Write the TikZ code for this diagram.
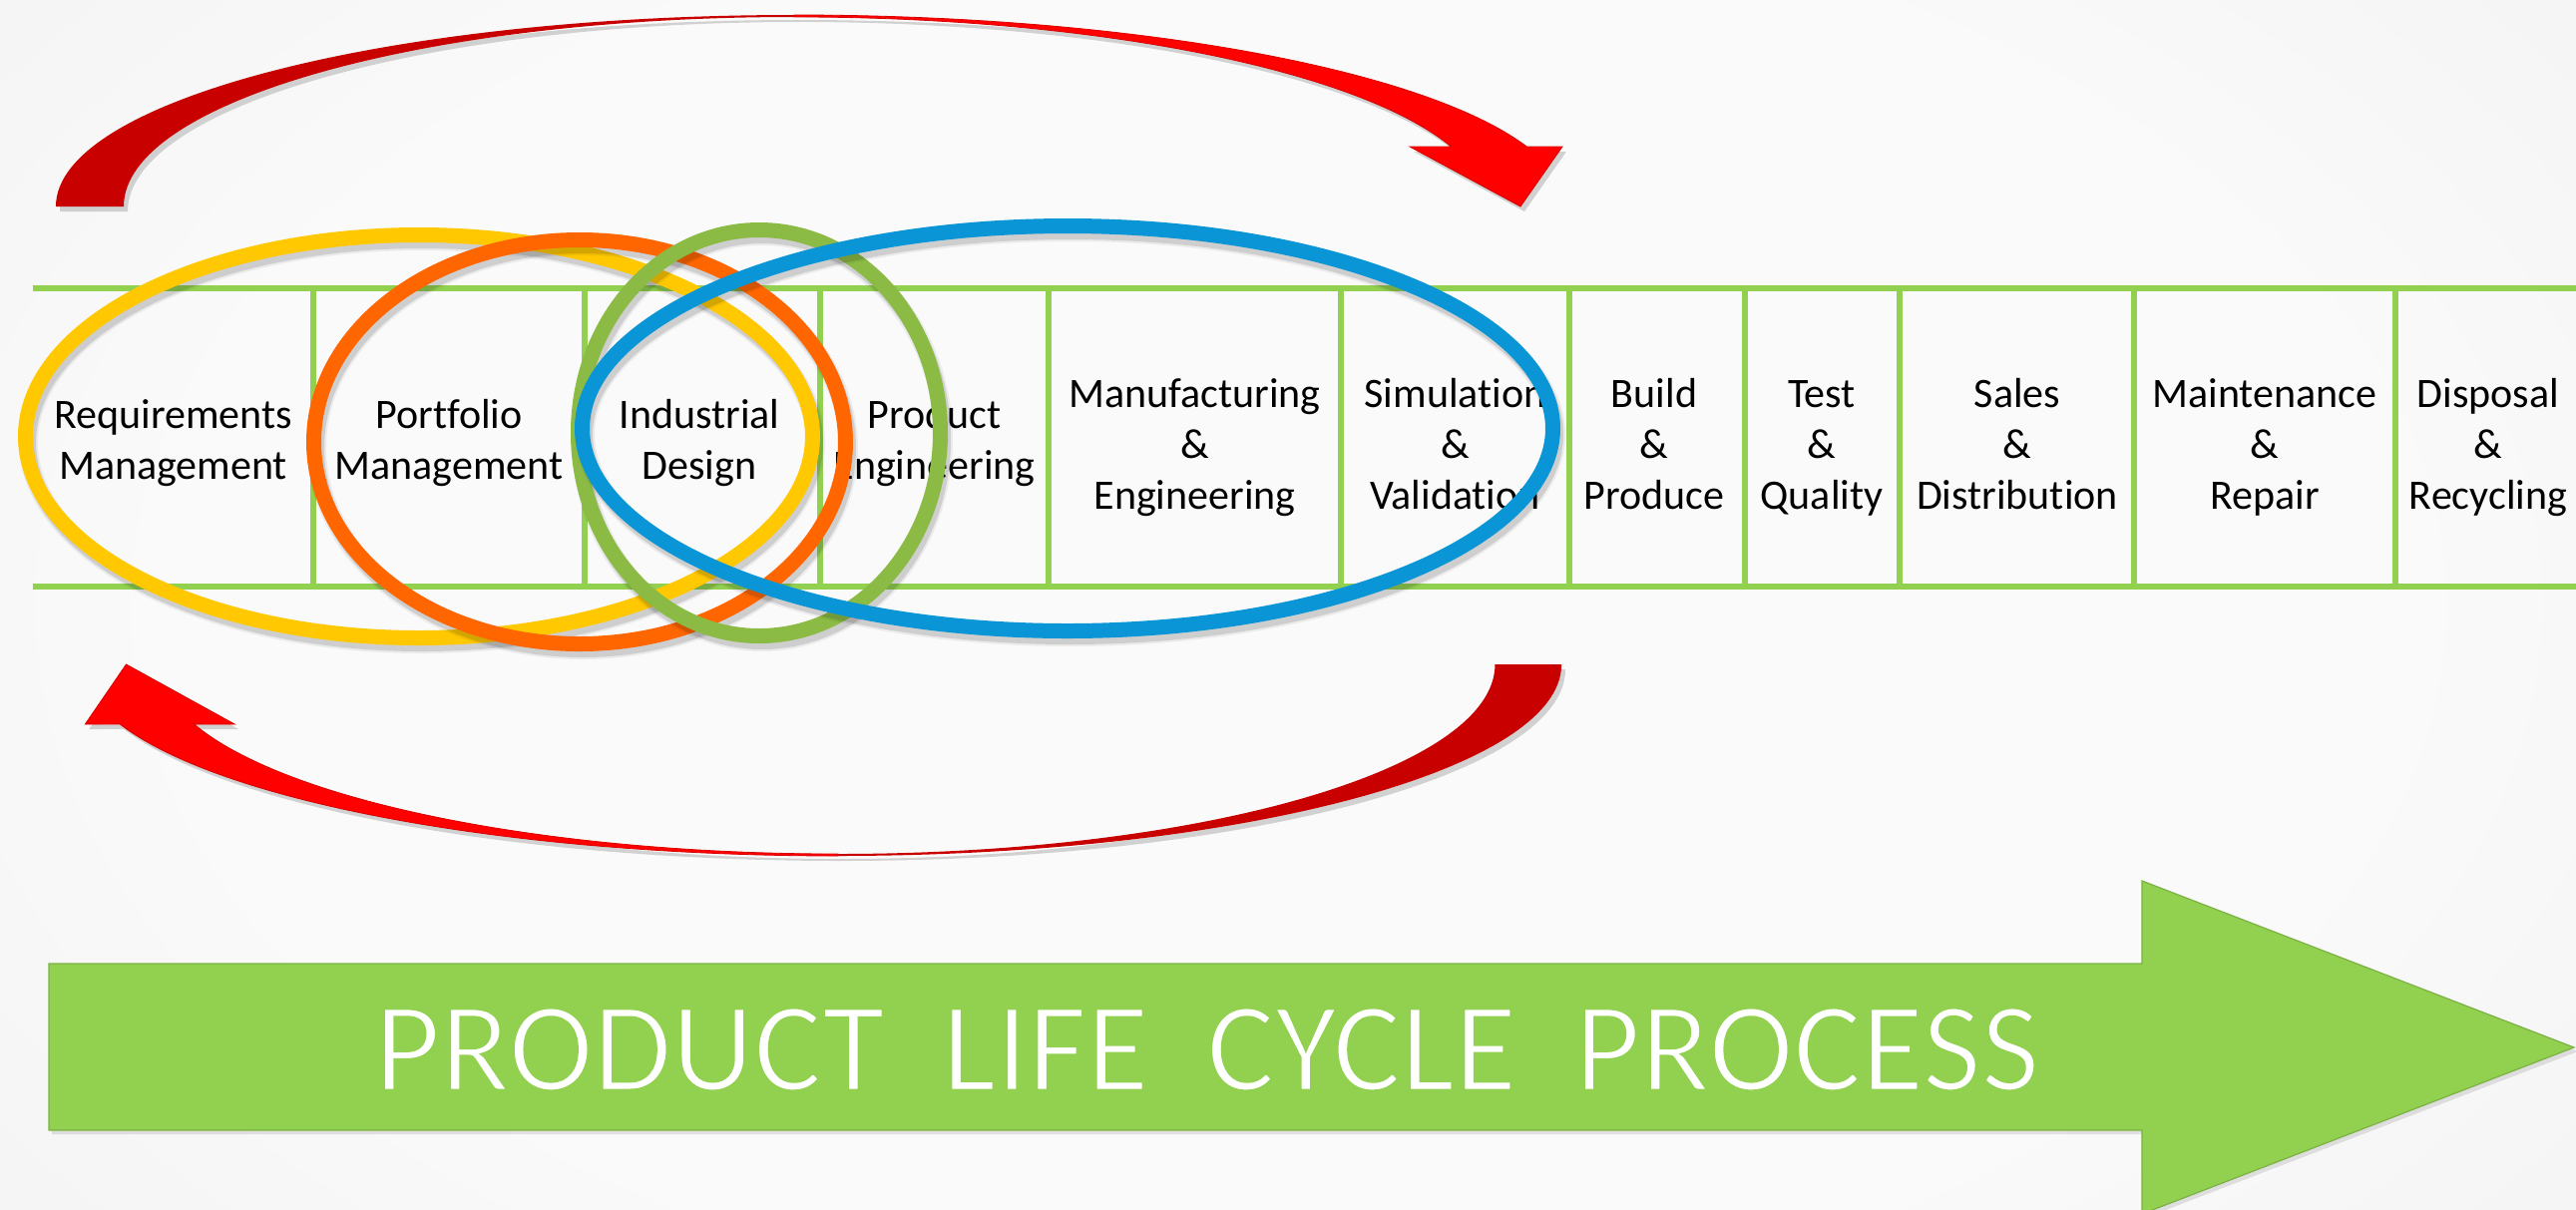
\documentclass[tikz,border=0pt]{standalone}
\usepackage{fontspec}
\setmainfont{Carlito}[Ligatures=NoCommon]
\usetikzlibrary{calc}
\definecolor{ringY}{HTML}{FFC800}
\definecolor{ringO}{HTML}{FF6600}
\definecolor{ringG}{HTML}{8BBB44}
\definecolor{ringB}{HTML}{0A96D6}
\definecolor{plcgreen}{HTML}{92D050}
\definecolor{redbright}{HTML}{FF0000}
\definecolor{reddark}{HTML}{C80000}
\definecolor{bgin}{HTML}{FAFAFA}
\definecolor{bgout}{HTML}{DADADA}
\pgfdeclareradialshading{plcbg}{\pgfpoint{0bp}{0bp}}{color(0bp)=(bgin); color(20bp)=(bgin); color(75bp)=(bgout)}

% thin (light-weight) rendering of white text on the green arrow
\newcommand\plclight[1]{\special{pdf:literal direct 2 Tr 1.5 w 0.573 0.816 0.314 RG}#1\special{pdf:literal direct 0 Tr}}

% red curved arrow, drawn in local px coordinates (y downwards)
\newcommand\plcarrowdark[1]{\path[#1] (56,207) arc[start angle=180,end angle=270,x radius=740,y radius=192] -- (796,17) arc[start angle=270,end angle=180,x radius=672,y radius=190] -- cycle;}
\newcommand\plcarrowbright[1]{\path[#1] (796,15) arc[start angle=270,end angle=341.8,x radius=773,y radius=192] -- (1566,147) -- (1524,207) -- (1413,147) -- (1454.5,147) arc[start angle=341.6,end angle=270,x radius=694,y radius=190] -- cycle;}
\newcommand\plcredarrow[2]{%
  \begin{scope}[shift={(#1,#2)}]
    \plcarrowdark{fill=black,opacity=0.16}
    \plcarrowbright{fill=black,opacity=0.16}
  \end{scope}
  \plcarrowdark{fill=reddark}
  \plcarrowbright{fill=redbright,draw=red!85!black,line width=0.4pt}}
% coloured ring with a soft shadow: colour, cx, cy, rx, ry
\newcommand\plcring[5]{%
  \draw[line width=9.5pt,black,opacity=0.06] (#2+3,#3+6) ellipse[x radius=#4,y radius=#5];
  \draw[line width=7.5pt,black,opacity=0.12] (#2+3,#3+6) ellipse[x radius=#4,y radius=#5];
  \draw[line width=7.5pt,#1] (#2,#3) ellipse[x radius=#4,y radius=#5];}

\begin{document}
\begin{tikzpicture}[x=0.5pt,y=-0.5pt,
  tableline/.style={draw=plcgreen,line width=2.8pt},
  sepline/.style={draw=plcgreen,line width=2.6pt},
  plccell/.style={anchor=north,align=center,inner sep=0pt,text=black,
    font=\fontsize{21pt}{25.5pt}\selectfont},
  plcbig/.style={anchor=base,inner sep=0pt,text=white,
    font=\fontsize{64pt}{76pt}\selectfont},
  bigarrow/.style={fill=plcgreen,draw=plcgreen!85!black,line width=0.6pt}]
\useasboundingbox (0,0) rectangle (2582,1212);
% background
\begin{scope}
  \clip (0,0) rectangle (2582,1212);
  \shade[shading=plcbg] (-100,-250) rectangle (2682,1462);
\end{scope}
% table
\draw[tableline] (33,289) -- (2582,289);
\draw[tableline] (33,588) -- (2582,588);
\foreach \x in {314,586,822,1051,1344,1573,1749,1904,2139,2401}
  \draw[sepline] (\x,291) -- (\x,586);
% cell texts
\node[plccell] (req)   at (173.5,393.3) {\strut Requirements\\\strut Management};
\node[plccell] (port)  at (450,393.3)   {\strut Portfolio\\\strut Management};
\node[plccell] (ind)   at (701,393.3)   {\strut Industrial\\\strut Design};
\node[plccell] (prod)  at (936.5,393.3) {\strut Product\\\strut Engineering};
\node[plccell] (manu)  at (1197.5,372.3){\strut Manufacturing\\\strut\&\\\strut Engineering};
\node[plccell] (sim)   at (1458.5,372.3){\strut Simulation\\\strut\&\\\strut Validation};
\node[plccell] (build) at (1658,372.3)  {\strut Build\\\strut\&\\\strut Produce};
\node[plccell] (test)  at (1826,372.3)  {\strut Test\\\strut\&\\\strut Quality};
\node[plccell] (sales) at (2022,372.3)  {\strut Sales\\\strut\&\\\strut Distribution};
\node[plccell] (maint) at (2270,372.3)  {\strut Maintenance\\\strut\&\\\strut Repair};
\node[plccell] (disp)  at (2494,372.3)  {\strut Disposal\\\strut\&\\\strut Recycling};
% red curved arrows
\plcredarrow{4}{5}
\begin{scope}[shift={(1620,873)},xscale=-0.98,yscale=-1]
  \plcredarrow{-4}{-5}
\end{scope}
% rings
\plcring{ringY}{420}{437.5}{394.5}{202}
\plcring{ringO}{581}{443}{266.5}{202.5}
\plcring{ringG}{761}{434}{181.5}{203.5}
\plcring{ringB}{1070}{429.5}{486.5}{203}
% big process arrow
\fill[black,opacity=0.10] (52,970) -- (2150,970) -- (2150,887) -- (2584,1054) -- (2150,1221) -- (2150,1137) -- (52,1137) -- cycle;
\path[bigarrow] (49,966) -- (2147,966) -- (2147,883) -- (2580,1050) -- (2147,1217) -- (2147,1133) -- (49,1133) -- cycle;
\node[plcbig] (plc) at (1210,1093) {\plclight{PRODUCT~~LIFE~~CYCLE~~PROCESS}};
\end{tikzpicture}
\end{document}
